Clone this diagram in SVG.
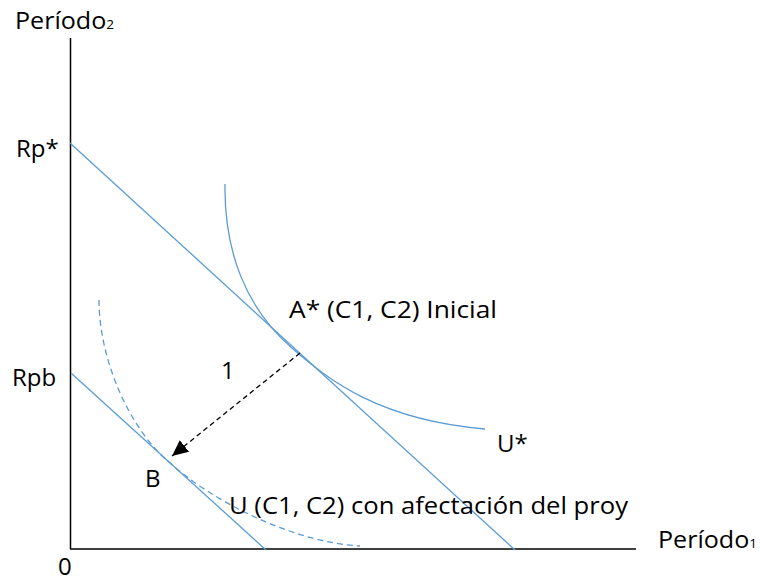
<svg xmlns="http://www.w3.org/2000/svg" width="760" height="585" viewBox="0 0 760 585">
  <style>
    .t { font-family: "Open Sans", "Liberation Sans", sans-serif; font-size: 24px; fill: #000; }
    .sub { font-size: 13px; }
    .axis { stroke: #000; stroke-width: 1.5; fill: none; }
    .blue { stroke: #5B9BD5; stroke-width: 1.3; fill: none; }
    .bluedash { stroke: #5B9BD5; stroke-width: 1.3; fill: none; stroke-dasharray: 6 4; }
    .arrow { stroke: #000; stroke-width: 1.3; fill: none; stroke-dasharray: 5 3.5; }
  </style>
  <defs>
    <marker id="head" markerUnits="userSpaceOnUse" markerWidth="18" markerHeight="16" refX="16" refY="7.5" orient="auto">
      <path d="M0,0 L16,7.5 L0,15 Z" fill="#000"/>
    </marker>
  </defs>
  <rect width="760" height="585" fill="#fff"/>

  <g id="axes">
    <line class="axis" x1="70.5" y1="38" x2="70.5" y2="549"/>
    <line class="axis" x1="70" y1="549" x2="636" y2="549"/>
  </g>

  <g id="budget-lines">
    <line id="line-rp" class="blue" x1="70" y1="143" x2="515" y2="550"/>
    <line id="line-rpb" class="blue" x1="71" y1="373" x2="266" y2="550"/>
  </g>

  <g id="curves">
    <path id="u-star" class="blue" d="M225,184 C224,250 245,308 293,349 C330,381 380,420 485,429"/>
    <path id="u-proy" class="bluedash" d="M99,300 C99,360 130,430 170,463 C210,499 290,542 360,546"/>
  </g>

  <g id="connectors">
    <line class="arrow" x1="300" y1="353" x2="172" y2="456" marker-end="url(#head)"/>
  </g>

  <g id="labels">
    <text class="t" x="15" y="29" textLength="99" lengthAdjust="spacingAndGlyphs">Período<tspan class="sub">2</tspan></text>
    <text class="t" x="16" y="157">Rp*</text>
    <text class="t" x="12" y="386">Rpb</text>
    <text class="t" x="221" y="379">1</text>
    <text class="t" x="145" y="487">B</text>
    <text class="t" x="289" y="318" textLength="208" lengthAdjust="spacingAndGlyphs">A* (C1, C2) Inicial</text>
    <text class="t" x="497" y="452">U*</text>
    <text class="t" x="229" y="514" textLength="399" lengthAdjust="spacingAndGlyphs">U (C1, C2) con afectación del proy</text>
    <text class="t" x="658" y="548" textLength="99" lengthAdjust="spacingAndGlyphs">Período<tspan class="sub">1</tspan></text>
    <text class="t" x="58" y="575">0</text>
  </g>
</svg>
